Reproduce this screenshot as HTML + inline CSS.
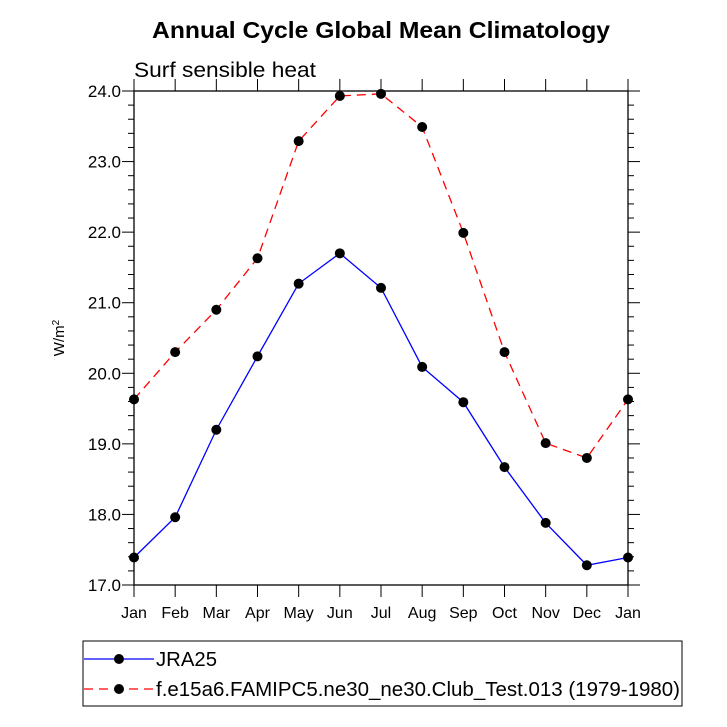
<!DOCTYPE html>
<html><head><meta charset="utf-8"><style>
body{margin:0;background:#fff}
svg{display:block;font-family:"Liberation Sans",sans-serif}
</style></head><body>
<svg id="chart" width="727" height="727" viewBox="0 0 727 727">
<text x="152" y="38" textLength="458" lengthAdjust="spacingAndGlyphs" font-size="23" font-weight="bold">Annual Cycle Global Mean Climatology</text>
<text x="134" y="77" textLength="182" lengthAdjust="spacingAndGlyphs" font-size="21">Surf sensible heat</text>
<text transform="translate(64,338) rotate(-90)" text-anchor="middle" font-size="15">W/m<tspan dy="-5" font-size="10">2</tspan></text>
<g id="axes"></g>
<g id="series"></g>
<g>
<rect x="83" y="641" width="599" height="65" fill="none" stroke="#000" stroke-width="1"/>
<line x1="84" y1="659" x2="154" y2="659" stroke="#0000ff" stroke-width="1.2"/>
<circle cx="119" cy="659" r="5" fill="#000"/>
<text x="156" y="666" textLength="61" lengthAdjust="spacingAndGlyphs" font-size="20">JRA25</text>
<line x1="84" y1="689" x2="154" y2="689" stroke="#ff0000" stroke-width="1.2" stroke-dasharray="9,6"/>
<circle cx="119" cy="689" r="5" fill="#000"/>
<text x="156" y="696" textLength="524" lengthAdjust="spacingAndGlyphs" font-size="20">f.e15a6.FAMIPC5.ne30_ne30.Club_Test.013 (1979-1980)</text>
</g>
</svg>
<script>
const months=["Jan","Feb","Mar","Apr","May","Jun","Jul","Aug","Sep","Oct","Nov","Dec","Jan"];
const jra25=[17.39,17.96,19.20,20.24,21.27,21.70,21.21,20.09,19.59,18.67,17.88,17.28,17.39];
const model=[19.63,20.30,20.90,21.63,23.29,23.93,23.96,23.49,21.99,20.30,19.01,18.80,19.63];
const yTicks=["17.0","18.0","19.0","20.0","21.0","22.0","23.0","24.0"];
const X0=134,X1=628,Y0=585,Y1=91,YMIN=17,YMAX=24;
const sx=i=>X0+(X1-X0)*i/(months.length-1);
const sy=v=>Y0-(v-YMIN)/(YMAX-YMIN)*(Y0-Y1);
const NS="http://www.w3.org/2000/svg";
function mk(t,a,p){const e=document.createElementNS(NS,t);for(const k in a)e.setAttribute(k,a[k]);p.appendChild(e);return e;}
const ax=document.getElementById('axes');
const frame=mk('rect',{x:X0,y:Y1,width:X1-X0,height:Y0-Y1,fill:'none',stroke:'#000','stroke-width':1.3},ax);


months.forEach((m,i)=>{
 const x=sx(i);
 mk('line',{x1:x,y1:Y0,x2:x,y2:Y0+12,stroke:'#000'},ax);
 mk('line',{x1:x,y1:Y1,x2:x,y2:Y1-12,stroke:'#000'},ax);
 const t=mk('text',{x:x,y:Y0+33,'text-anchor':'middle','font-size':16},ax);
 t.textContent=m;
 
 
});
for(let v=YMIN;v<=YMAX+1e-9;v+=0.2){
 const y=sy(v);const major=Math.abs(v-Math.round(v))<1e-6;const L=major?12:6;
 mk('line',{x1:X0-L,y1:y,x2:X0,y2:y,stroke:'#000'},ax);
 mk('line',{x1:X1,y1:y,x2:X1+L,y2:y,stroke:'#000'},ax);
}
yTicks.forEach(s=>{
 const t=mk('text',{x:X0-13,y:sy(parseFloat(s))+6,'text-anchor':'end','font-size':17},ax);
 t.textContent=s;
 
 
});
const sg=document.getElementById('series');
function draw(vals,color,dash,name){
 const p=mk('polyline',{points:vals.map((v,i)=>sx(i)+','+sy(v)).join(' '),fill:'none',stroke:color,'stroke-width':1.3},sg);
 if(dash)p.setAttribute('stroke-dasharray',dash);
 
 
 vals.forEach((v,i)=>{
  const c=mk('circle',{cx:sx(i),cy:sy(v),r:5,fill:'#000'},sg);
  
  
 });
}
draw(model,'#ff0000','9,6','model');
draw(jra25,'#0000ff',null,'jra25');
</script>
</body></html>
